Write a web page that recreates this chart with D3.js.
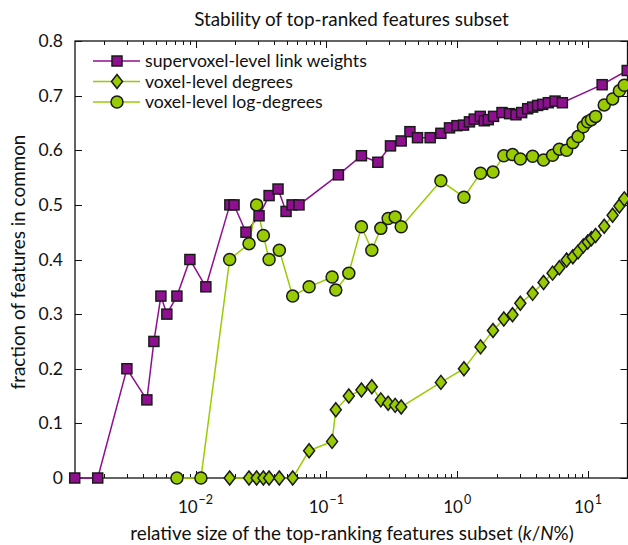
<!DOCTYPE html>
<html><head><meta charset="utf-8">
<script src="https://cdn.jsdelivr.net/npm/d3@7"></script>
<style>body{margin:0;background:#fff}svg{display:block}text{font-family:Lato,"Open Sans",sans-serif;fill:#111}</style>
</head><body><svg id="c" width="628" height="545"></svg>
<script>
const title = "Stability of top-ranked features subset";
const yTicks = [0,0.1,0.2,0.3,0.4,0.5,0.6,0.7,0.8];
const xDecades = [-2,-1,0,1];
const seriesNames = ["supervoxel-level link weights","voxel-level degrees","voxel-level log-degrees"];

// supervoxel-level link weights
const svX = [0.001194,0.00179,0.00299,0.00425,0.00481,0.00544,0.00604,0.00721,0.00906,0.0120,0.0183,0.0197,0.0243,0.0306,0.0365,0.0427,0.0492,0.0547,0.0618,0.1236,0.1853,0.2474,0.309,0.373,0.435,0.497,0.621,0.750,0.873,0.995,1.117,1.240,1.349,1.500,1.610,1.726,1.895,2.198,2.512,2.812,3.105,3.452,3.768,4.115,4.495,4.97,5.59,6.36,12.8,19.9];
const svY = [0,0,0.2,0.143,0.25,0.333,0.3,0.333,0.4,0.35,0.5,0.5,0.45,0.48,0.517,0.529,0.488,0.5,0.5,0.555,0.59,0.578,0.608,0.617,0.634,0.623,0.623,0.631,0.641,0.645,0.646,0.652,0.657,0.662,0.654,0.656,0.662,0.669,0.667,0.665,0.669,0.676,0.679,0.682,0.684,0.687,0.69,0.687,0.72,0.746];

// voxel-level x positions (shared)
const gX = [0.00721,0.0110,0.01824,0.02564,0.0293,0.0330,0.0365,0.0437,0.0553,0.0738,0.1106,0.1180,0.1484,0.1853,0.2225,0.2606,0.2965,0.3355,0.3731,0.750,1.125,1.507,1.876,2.269,2.645,3.034,3.768,4.566,5.35,6.03,6.85,7.65,8.38,9.20,9.93,10.6,11.41,13.28,15.39,17.34,18.9];
// voxel-level degrees (from gX[2])
const degY = [0,0,0,0,0,0,0,0.05,0.067,0.125,0.15,0.161,0.167,0.143,0.137,0.133,0.13,0.175,0.2,0.24,0.27,0.291,0.299,0.32,0.338,0.358,0.375,0.385,0.399,0.405,0.414,0.425,0.432,0.438,0.444,0.461,0.481,0.498,0.511];
// voxel-level log-degrees
const logY = [0,0,0.4,0.429,0.5,0.444,0.4,0.417,0.333,0.35,0.368,0.344,0.375,0.46,0.417,0.457,0.475,0.478,0.46,0.544,0.514,0.558,0.56,0.59,0.592,0.584,0.589,0.582,0.591,0.602,0.6,0.614,0.625,0.643,0.652,0.656,0.662,0.683,0.694,0.709,0.719];

const purple = "#8f0f91", green = "#99cc00", markStroke = "#1a1a1a";
const svg = d3.select("#c");
const L = 75, R = 627.5, T = 41, B = 478;
const x = d3.scaleLog().domain([0.0012, 20]).range([L, R]);
const y = d3.scaleLinear().domain([0, 0.8]).range([B, T]);

const svData = svX.map((v,i)=>[v, svY[i]]);
const degData = degY.map((v,i)=>[gX[i+2], v]);
const logData = gX.map((v,i)=>[v, logY[i]]);

function fit(sel, w){ const n=sel.node(); const cur=n.getComputedTextLength(); const fs=parseFloat(sel.attr("font-size")); sel.attr("font-size", (fs*w/cur).toFixed(2)); return sel; }

// frame
svg.append("rect").attr("x",L).attr("y",T).attr("width",R-L).attr("height",B-T)
  .attr("fill","none").attr("stroke","#111").attr("stroke-width",1.3);
const majors = xDecades.map(d=>Math.pow(10,d));
const minors = [];
for (let d=-3; d<=1; d++) for (let m=2; m<=9; m++){ const v=m*Math.pow(10,d); if (v>=0.0012 && v<=20) minors.push(v); }
const tg = svg.append("g").attr("stroke","#111").attr("stroke-width",1);
majors.forEach(v=>{ const px=Math.round(x(v))+0.5;
  tg.append("line").attr("x1",px).attr("x2",px).attr("y1",B).attr("y2",B-7);
  tg.append("line").attr("x1",px).attr("x2",px).attr("y1",T).attr("y2",T+7);});
minors.forEach(v=>{ const px=Math.round(x(v))+0.5;
  tg.append("line").attr("x1",px).attr("x2",px).attr("y1",B).attr("y2",B-4);
  tg.append("line").attr("x1",px).attr("x2",px).attr("y1",T).attr("y2",T+4);});
yTicks.forEach(v=>{ const py=Math.round(y(v))+0.5;
  tg.append("line").attr("x1",L).attr("x2",L+7).attr("y1",py).attr("y2",py);
  tg.append("line").attr("x1",R).attr("x2",R-7).attr("y1",py).attr("y2",py);});
// y tick labels
svg.append("g").selectAll("text").data(yTicks).join("text")
  .attr("x",63).attr("y",d=>y(d)+6).attr("text-anchor","end").attr("font-size",17.5)
  .text(d=>d===0?"0":d3.format(".1f")(d));
// x tick labels: base and exponent as separate texts, centred on the tick
xDecades.forEach(d=>{
  const cx = x(Math.pow(10,d));
  const b = svg.append("text").attr("y",513).attr("font-size",17).text("10");
  const e = svg.append("text").attr("y",504).attr("font-size",12.5).text(d<0?"\u2212"+(-d):String(d));
  const wb = b.node().getComputedTextLength(), we = e.node().getComputedTextLength();
  const x0 = cx - (wb + 1 + we)/2;
  b.attr("x", x0); e.attr("x", x0 + wb + 1);
});
// titles
fit(svg.append("text").attr("x",351.5).attr("y",26).attr("text-anchor","middle").attr("font-size",17).text(title), 315);
const xl = svg.append("text").attr("x",352).attr("y",540).attr("text-anchor","middle").attr("font-size",18);
xl.append("tspan").text("relative size of the top-ranking features subset (");
xl.append("tspan").attr("font-style","italic").text("k");
xl.append("tspan").text("/");
xl.append("tspan").attr("font-style","italic").text("N");
xl.append("tspan").text("%)");
fit(xl, 444);
fit(svg.append("text").attr("transform","translate(25,262) rotate(-90)").attr("text-anchor","middle").attr("font-size",17).text("fraction of features in common"), 255);

// lines
const line = d3.line().x(d=>x(d[0])).y(d=>y(d[1]));
svg.append("path").datum(svData).attr("d",line).attr("fill","none").attr("stroke",purple).attr("stroke-width",1.5);
svg.append("path").datum(degData).attr("d",line).attr("fill","none").attr("stroke",green).attr("stroke-width",1.5);
svg.append("path").datum(logData).attr("d",line).attr("fill","none").attr("stroke",green).attr("stroke-width",1.5);

const sq = 10, dw = 5.5, dh = 7, cr = 6;
function square(g, cx, cy){ g.append("rect").attr("x",cx-sq/2).attr("y",cy-sq/2).attr("width",sq).attr("height",sq).attr("fill",purple).attr("stroke",markStroke).attr("stroke-width",1.5); }
function diamond(g, cx, cy){ g.append("path").attr("d",`M${cx},${cy-dh}L${cx+dw},${cy}L${cx},${cy+dh}L${cx-dw},${cy}Z`).attr("fill",green).attr("stroke",markStroke).attr("stroke-width",1.5); }
function circle(g, cx, cy){ g.append("circle").attr("cx",cx).attr("cy",cy).attr("r",cr).attr("fill",green).attr("stroke",markStroke).attr("stroke-width",1.5); }

const mg = svg.append("g");
degData.forEach(d=>diamond(mg, x(d[0]), y(d[1])));
logData.forEach(d=>circle(mg, x(d[0]), y(d[1])));
svData.forEach(d=>square(mg, x(d[0]), y(d[1])));

// legend
const lg = svg.append("g");
const rows = [[purple, square],[green, diamond],[green, circle]];
rows.forEach((r,i)=>{
  const yy = 61 + i*20.5;
  lg.append("line").attr("x1",93).attr("x2",140).attr("y1",yy).attr("y2",yy).attr("stroke",r[0]).attr("stroke-width",1.5);
  r[1](lg, 117, yy);
  const t = lg.append("text").attr("x",145).attr("y",yy+6).attr("font-size",17).text(seriesNames[i]);
  if (i===0) fit(t, 222); else t.attr("font-size", lg.select("text").attr("font-size"));
});
</script></body></html>
